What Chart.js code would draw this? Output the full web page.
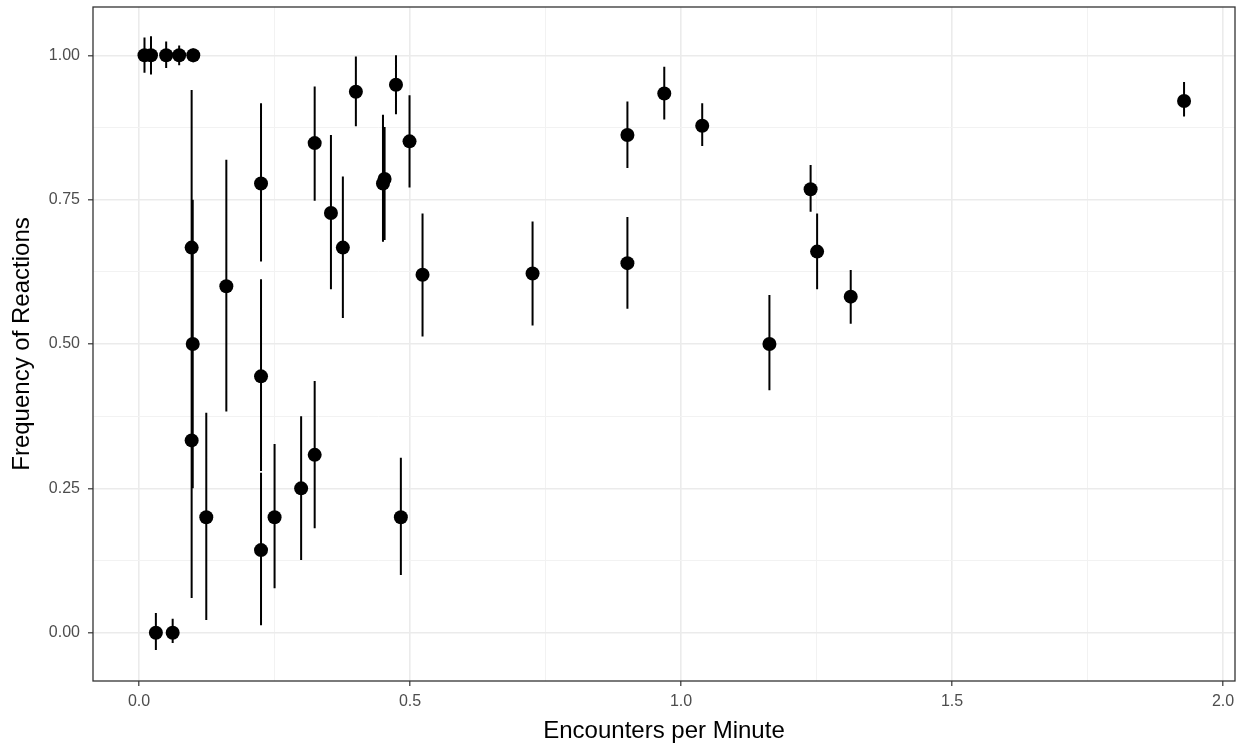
<!DOCTYPE html>
<html>
<head>
<meta charset="utf-8">
<script src="https://cdn.jsdelivr.net/npm/chart.js@4.4.1/dist/chart.umd.min.js"></script>
<style>
  html, body { margin: 0; padding: 0; background: #fff; }
  #wrap { width: 1249px; height: 748px; }
</style>
</head>
<body>
<div id="wrap"><canvas id="reactionChart" width="1249" height="748"></canvas></div>
<script>
// encounter rate per individual, observed reaction frequency and its interval
const rate = [0.010, 0.022, 0.050, 0.074, 0.100, 0.031, 0.062, 0.097, 0.099, 0.097,
  0.124, 0.161, 0.225, 0.225, 0.225, 0.250, 0.299, 0.324, 0.324, 0.354,
  0.376, 0.400, 0.450, 0.453, 0.474, 0.483, 0.499, 0.523, 0.726, 0.901,
  0.901, 0.969, 1.039, 1.163, 1.239, 1.251, 1.313, 1.928];
const freq = [1.000, 1.000, 1.000, 1.000, 1.000, 0.000, 0.000, 0.667, 0.500, 0.333,
  0.200, 0.600, 0.778, 0.444, 0.143, 0.200, 0.250, 0.308, 0.848, 0.727,
  0.667, 0.937, 0.778, 0.786, 0.949, 0.200, 0.851, 0.620, 0.622, 0.862,
  0.640, 0.934, 0.878, 0.500, 0.768, 0.660, 0.582, 0.921];
const lower = [0.970, 0.967, 0.978, 0.983, 0.988, -0.030, -0.018, 0.250, 0.250, 0.060,
  0.022, 0.383, 0.643, 0.280, 0.013, 0.077, 0.126, 0.181, 0.748, 0.595,
  0.545, 0.877, 0.677, 0.680, 0.898, 0.100, 0.771, 0.513, 0.532, 0.805,
  0.561, 0.889, 0.843, 0.420, 0.729, 0.595, 0.535, 0.894];
const upper = [1.031, 1.033, 1.024, 1.017, 1.012, 0.034, 0.024, 0.940, 0.750, 0.750,
  0.381, 0.819, 0.917, 0.612, 0.277, 0.327, 0.375, 0.436, 0.946, 0.862,
  0.790, 0.998, 0.897, 0.876, 1.000, 0.303, 0.931, 0.726, 0.712, 0.920,
  0.720, 0.980, 0.917, 0.585, 0.810, 0.726, 0.628, 0.954];

const xMajor = [0, 0.5, 1, 1.5, 2];
const xMinor = [0.25, 0.75, 1.25, 1.75];
const yMajor = [0, 0.25, 0.5, 0.75, 1];
const yMinor = [0.125, 0.375, 0.625, 0.875];

const xLabels = ['0.0', '0.5', '1.0', '1.5', '2.0'];
const yLabels = ['0.00', '0.25', '0.50', '0.75', '1.00'];

// vertical whiskers: one segment per point, broken by a null
const whiskers = [];
rate.forEach((x, i) => {
  whiskers.push({ x, y: lower[i] }, { x, y: upper[i] }, { x, y: null });
});
const points = rate.map((x, i) => ({ x, y: freq[i] }));

const FONT = "'Liberation Sans', Arial, sans-serif";

function tickSet(major, minor) {
  return (scale) => {
    scale.ticks = major.concat(minor).sort((a, b) => a - b).map((v) => ({ value: v }));
  };
}
const isMajor = (list, v) => list.some((m) => Math.abs(m - v) < 1e-9);

function gridFor(major) {
  return {
    color: (c) => (c.tick && isMajor(major, c.tick.value) ? '#ebebeb' : '#f2f2f2'),
    lineWidth: (c) => (c.tick && isMajor(major, c.tick.value) ? 1.6 : 1),
    tickColor: (c) => (c.tick && isMajor(major, c.tick.value) ? '#333333' : 'rgba(0,0,0,0)'),
    tickLength: 5,
    tickWidth: 1.2,
    drawTicks: true
  };
}

const panelBorder = {
  id: 'panelBorder',
  afterDatasetsDraw(chart) {
    const { ctx, chartArea: a } = chart;
    ctx.save();
    ctx.strokeStyle = '#333333';
    ctx.lineWidth = 1.3;
    ctx.strokeRect(a.left, a.top, a.right - a.left, a.bottom - a.top);
    ctx.restore();
  }
};

new Chart(document.getElementById('reactionChart'), {
  type: 'scatter',
  data: {
    datasets: [
      {
        data: whiskers,
        showLine: true,
        spanGaps: false,
        borderColor: '#000',
        borderWidth: 2,
        borderCapStyle: 'butt',
        pointRadius: 0,
        order: 2
      },
      {
        data: points,
        backgroundColor: '#000',
        borderColor: '#000',
        borderWidth: 0,
        pointRadius: 7,
        pointHoverRadius: 7,
        order: 1
      }
    ]
  },
  options: {
    responsive: false,
    animation: false,
    events: [],
    layout: { padding: { top: 7, right: 14, left: 0, bottom: 0 } },
    plugins: { legend: { display: false }, tooltip: { enabled: false } },
    scales: {
      x: {
        type: 'linear',
        min: -0.085,
        max: 2.022,
        afterBuildTicks: tickSet(xMajor, xMinor),
        afterFit: (scale) => { scale.height = 67; scale.paddingLeft = 0; scale.paddingRight = 0; },
        grid: gridFor(xMajor),
        border: { display: false },
        ticks: {
          padding: 6,
          color: '#4d4d4d',
          font: { family: FONT, size: 16 },
          callback: (v) => { const i = xMajor.findIndex((m) => Math.abs(m - v) < 1e-9); return i < 0 ? '' : xLabels[i]; }
        },
        title: {
          display: true,
          text: 'Encounters per Minute',
          color: '#000',
          font: { family: FONT, size: 24 },
          padding: { top: 0, bottom: 2 }
        }
      },
      y: {
        type: 'linear',
        min: -0.0837,
        max: 1.0837,
        afterBuildTicks: tickSet(yMajor, yMinor),
        afterFit: (scale) => { scale.width = 93; scale.paddingTop = 0; scale.paddingBottom = 0; },
        grid: gridFor(yMajor),
        border: { display: false },
        ticks: {
          padding: 8,
          color: '#4d4d4d',
          font: { family: FONT, size: 16 },
          callback: (v) => { const i = yMajor.findIndex((m) => Math.abs(m - v) < 1e-9); return i < 0 ? '' : yLabels[i]; }
        },
        title: {
          display: true,
          text: 'Frequency of Reactions',
          color: '#000',
          font: { family: FONT, size: 24 },
          padding: { top: 8, bottom: 0 }
        }
      }
    }
  },
  plugins: [panelBorder]
});
</script>
</body>
</html>
